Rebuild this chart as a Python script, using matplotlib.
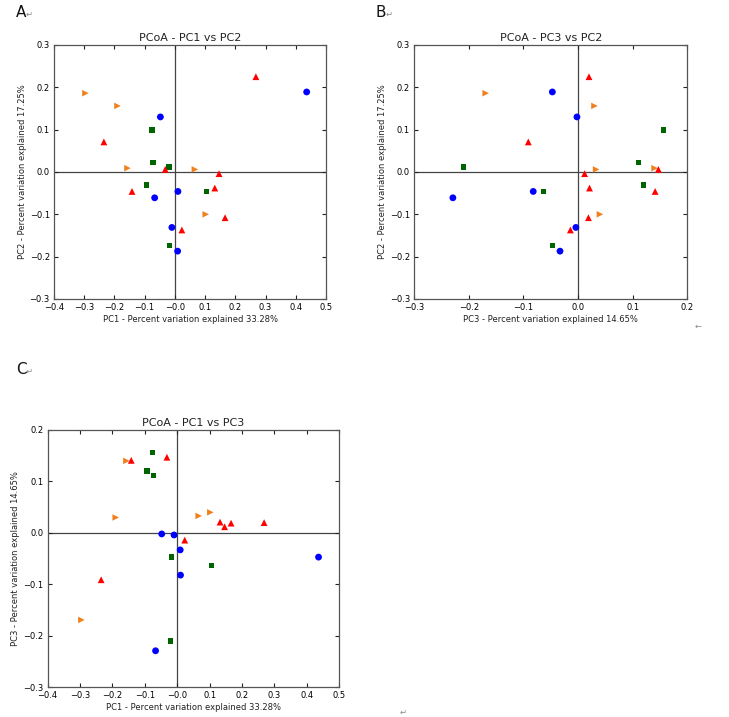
import numpy as np
import matplotlib.pyplot as plt

# sample coordinates per group (PC1, PC2, PC3)
blue_pc1 = [0.436, -0.048, -0.067, 0.010, -0.010, 0.009]
blue_pc2 = [0.189, 0.130, -0.061, -0.046, -0.131, -0.187]
blue_pc3 = [-0.047, -0.002, -0.229, -0.082, -0.004, -0.033]

green_pc1 = [-0.076, -0.073, -0.020, -0.093, 0.105, -0.018]
green_pc2 = [0.099, 0.022, 0.012, -0.031, -0.046, -0.174]
green_pc3 = [0.156, 0.111, -0.210, 0.120, -0.063, -0.047]

orange_pc1 = [-0.296, -0.190, -0.157, 0.066, 0.102]
orange_pc2 = [0.186, 0.156, 0.009, 0.006, -0.100]
orange_pc3 = [-0.169, 0.030, 0.140, 0.033, 0.040]

red_pc1 = [0.268, -0.235, -0.032, 0.146, 0.132, -0.142, 0.166, 0.023]
red_pc2 = [0.225, 0.071, 0.006, -0.004, -0.038, -0.046, -0.108, -0.137]
red_pc3 = [0.020, -0.091, 0.147, 0.012, 0.021, 0.141, 0.019, -0.014]

pc_labels = {
    1: 'PC1 - Percent variation explained 33.28%',
    2: 'PC2 - Percent variation explained 17.25%',
    3: 'PC3 - Percent variation explained 14.65%',
}

groups = [
    (blue_pc1, blue_pc2, blue_pc3, 'o', '#0000ff', 24),
    (green_pc1, green_pc2, green_pc3, 's', '#006400', 15),
    (orange_pc1, orange_pc2, orange_pc3, '>', '#f07f1c', 22),
    (red_pc1, red_pc2, red_pc3, '^', '#ff0000', 24),
]


def pcoa_panel(ax, xi, yi, xlim, ylim, xticks, yticks):
    for g in groups:
        pcs = {1: g[0], 2: g[1], 3: g[2]}
        ax.scatter(pcs[xi], pcs[yi], marker=g[3], color=g[4], s=g[5],
                   edgecolors='none', zorder=3)
    ax.axhline(0, color='#444444', lw=0.9, zorder=1)
    ax.axvline(0, color='#444444', lw=0.9, zorder=1)
    ax.set_xlim(xlim)
    ax.set_ylim(ylim)
    ax.set_xticks(xticks)
    ax.set_yticks(yticks)
    ax.set_xticklabels([f'{t:.1f}'.replace('-', '\u2212') for t in xticks])
    ax.set_yticklabels([f'{t:.1f}'.replace('-', '\u2212') for t in yticks])
    ax.tick_params(direction='in', top=True, right=True, length=3,
                   labelsize=6, color='#222222')
    ax.tick_params(axis='x', pad=3)
    ax.tick_params(axis='y', pad=3)
    for s in ax.spines.values():
        s.set_color('#555555')
        s.set_linewidth(0.9)
    ax.set_xlabel(pc_labels[xi], fontsize=6, labelpad=2, color='#222222')
    ax.set_ylabel(pc_labels[yi], fontsize=6, labelpad=2, color='#222222')
    ax.set_title(f'PCoA - PC{xi} vs PC{yi}', fontsize=8, pad=3, color='#222222')


fig = plt.figure(figsize=(7.29, 7.17), dpi=100)

ax_a = fig.add_axes([0.0741, 0.583, 0.3731, 0.3543])
pcoa_panel(ax_a, 1, 2, (-0.4, 0.5), (-0.3, 0.3),
           np.round(np.arange(-0.4, 0.51, 0.1), 1),
           np.round(np.arange(-0.3, 0.31, 0.1), 1))

ax_b = fig.add_axes([0.568, 0.583, 0.3749, 0.3543])
pcoa_panel(ax_b, 3, 2, (-0.3, 0.2), (-0.3, 0.3),
           np.round(np.arange(-0.3, 0.21, 0.1), 1),
           np.round(np.arange(-0.3, 0.31, 0.1), 1))

ax_c = fig.add_axes([0.0654, 0.0414, 0.400, 0.3589])
pcoa_panel(ax_c, 1, 3, (-0.4, 0.5), (-0.3, 0.2),
           np.round(np.arange(-0.4, 0.51, 0.1), 1),
           np.round(np.arange(-0.3, 0.21, 0.1), 1))

# panel letters with the paragraph marks of the source document
for x, y, letter in [(16, 5, 'A'), (376, 5, 'B'), (16, 362, 'C')]:
    fig.text(x / 729, 1 - y / 717, letter, fontsize=11, va='top', ha='left',
             color='#111111')
    fig.text((x + 10) / 729, 1 - (y + 5) / 717, '\u21b5', fontsize=6,
             va='top', ha='left', color='#888888')
fig.text(695 / 729, 1 - 322 / 717, '\u2190', fontsize=6, va='top',
         ha='left', color='#888888')
fig.text(400 / 729, 1 - 708 / 717, '\u21b5', fontsize=6, va='top',
         ha='left', color='#888888')

plt.savefig('out.png', dpi=100)
